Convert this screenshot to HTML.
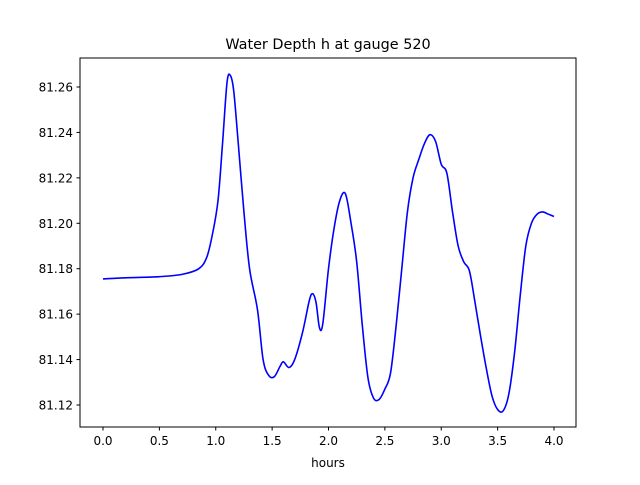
<!DOCTYPE html>
<html><head><meta charset="utf-8"><style>
body{margin:0;background:#fff}
svg text{font-family:"DejaVu Sans","Liberation Sans",sans-serif;fill:#000}
</style></head><body>
<svg id="chart" width="640" height="480" xmlns="http://www.w3.org/2000/svg">
<rect width="640" height="480" fill="#fff"/>
<text x="328" y="49" font-size="14.4" text-anchor="middle">Water Depth h at gauge 520</text>
<g id="plot"></g>
<rect x="80" y="58" width="496" height="369" fill="none" stroke="#000" stroke-width="1"/>
<text x="328" y="467" font-size="12" text-anchor="middle">hours</text>
</svg>
<script>
const hours=[0,0.2,0.5,0.7,0.85,0.92,0.97,1.02,1.06,1.1,1.13,1.16,1.2,1.25,1.3,1.37,1.42,1.47,1.52,1.57,1.6,1.65,1.7,1.77,1.83,1.86,1.89,1.92,1.95,2.0,2.05,2.1,2.15,2.2,2.25,2.3,2.35,2.4,2.45,2.5,2.55,2.6,2.65,2.7,2.75,2.8,2.85,2.9,2.95,3.0,3.05,3.1,3.15,3.2,3.25,3.3,3.35,3.4,3.45,3.5,3.55,3.6,3.65,3.7,3.75,3.8,3.85,3.9,3.95,4.0];
const depth=[81.1755,81.176,81.1765,81.1775,81.180,81.185,81.195,81.21,81.235,81.262,81.265,81.258,81.235,81.205,81.18,81.162,81.14,81.133,81.1325,81.137,81.139,81.1365,81.14,81.152,81.166,81.169,81.165,81.154,81.156,81.18,81.198,81.21,81.213,81.2,81.183,81.155,81.132,81.123,81.1225,81.127,81.134,81.155,81.18,81.205,81.22,81.228,81.235,81.239,81.236,81.226,81.222,81.205,81.19,81.183,81.179,81.165,81.15,81.136,81.124,81.118,81.1175,81.125,81.143,81.168,81.19,81.2,81.204,81.205,81.204,81.203];
const xTicks=[0,0.5,1,1.5,2,2.5,3,3.5,4];
const xTickLabels=["0.0","0.5","1.0","1.5","2.0","2.5","3.0","3.5","4.0"];
const yTicks=[81.12,81.14,81.16,81.18,81.20,81.22,81.24,81.26];
const yTickLabels=["81.12","81.14","81.16","81.18","81.20","81.22","81.24","81.26"];
const NS="http://www.w3.org/2000/svg";
const g=document.getElementById('plot');
const X=t=>103+112.75*t;
const Y=v=>405-(v-81.12)/0.02*45.43;
function mk(tag,attrs){const e=document.createElementNS(NS,tag);for(const k in attrs)e.setAttribute(k,attrs[k]);g.appendChild(e);return e;}
xTicks.forEach((t,i)=>{
  const l=mk('line',{x1:X(t),x2:X(t),y1:427,y2:430.5,stroke:'#000'});
  
  
  const tx=mk('text',{x:X(t),y:445,'font-size':12,'text-anchor':'middle'});
  tx.textContent=xTickLabels[i];
  
  
});
yTicks.forEach((v,i)=>{
  const l=mk('line',{x1:76.5,x2:80,y1:Y(v),y2:Y(v),stroke:'#000'});
  
  
  const tx=mk('text',{x:73,y:Y(v)+4.5,'font-size':12,'text-anchor':'end'});
  tx.textContent=yTickLabels[i];
  
  
});
const pts=hours.map((t,i)=>[X(t),Y(depth[i])]);
let d='M'+pts[0][0]+','+pts[0][1];
for(let i=0;i<pts.length-1;i++){
  const p0=pts[Math.max(0,i-1)],p1=pts[i],p2=pts[i+1],p3=pts[Math.min(pts.length-1,i+2)];
  const c1=[p1[0]+(p2[0]-p0[0])/6,p1[1]+(p2[1]-p0[1])/6];
  const c2=[p2[0]-(p3[0]-p1[0])/6,p2[1]-(p3[1]-p1[1])/6];
  d+=' C'+c1+' '+c2+' '+p2;
}
const path=mk('path',{d:d,fill:'none',stroke:'#0000ff','stroke-width':1.6,'stroke-linejoin':'round'});


</script>
</body></html>
